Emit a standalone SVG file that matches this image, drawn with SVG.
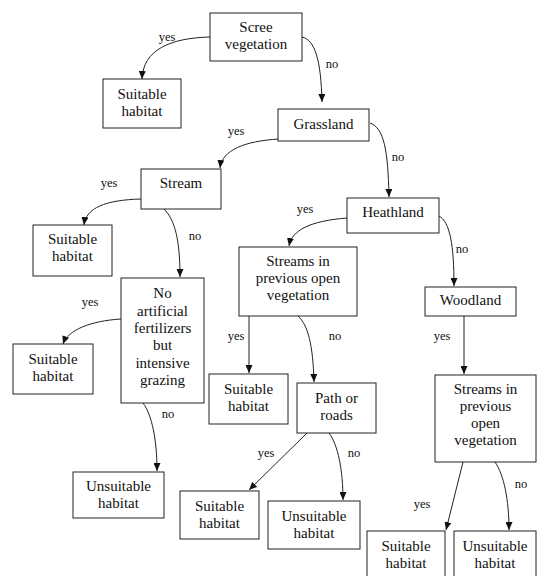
<svg xmlns="http://www.w3.org/2000/svg" width="537" height="576" viewBox="0 0 537 576">
<style>
.box{fill:#fff;stroke:#222;stroke-width:1}
.t{font-family:"Liberation Serif","Times New Roman",serif;font-size:15px;fill:#111;text-anchor:middle}
.l{font-family:"Liberation Serif","Times New Roman",serif;font-size:12.5px;fill:#111;text-anchor:middle}
.c{fill:none;stroke:#222;stroke-width:1;marker-end:url(#ah)}
</style>
<defs>
<marker id="ah" markerUnits="userSpaceOnUse" markerWidth="8" markerHeight="7" refX="8" refY="3.5" orient="auto">
<path d="M0,0 L8,3.5 L0,7 z" fill="#111"/>
</marker>
</defs>
<rect width="537" height="576" fill="#fff"/>
<g id="connectors">
<path class="c" d="M210,37 C170,38 143,50 142,79"/>
<path class="c" d="M302,37 C315,40 321,60 322,102"/>
<path class="c" d="M279,139 C245,141 222,150 220,168"/>
<path class="c" d="M370,123 C384,128 388,150 389,197"/>
<path class="c" d="M141,199 C105,200 86,208 84,225"/>
<path class="c" d="M164,209 C175,220 180,240 180,277"/>
<path class="c" d="M121,319 C90,321 68,330 63,344"/>
<path class="c" d="M143,403 C152,415 157,440 157,471"/>
<path class="c" d="M347,218 C310,221 292,230 289,246"/>
<path class="c" d="M439,216 C450,222 454,245 454,286"/>
<path class="c" d="M249,316 L249,373"/>
<path class="c" d="M298,316 C308,325 313,345 314,382"/>
<path class="c" d="M464,316 L464,374"/>
<path class="c" d="M307,433 L249,490"/>
<path class="c" d="M329,433 C338,445 343,470 343,500"/>
<path class="c" d="M463,462 L446,530"/>
<path class="c" d="M495,462 C504,475 509,500 509,530"/>
<text class="l" x="167" y="41">yes</text>
<text class="l" x="332" y="68">no</text>
<text class="l" x="236" y="135">yes</text>
<text class="l" x="398" y="161">no</text>
<text class="l" x="109" y="187">yes</text>
<text class="l" x="195" y="240">no</text>
<text class="l" x="90" y="306">yes</text>
<text class="l" x="168" y="418">no</text>
<text class="l" x="305" y="213">yes</text>
<text class="l" x="462" y="253">no</text>
<text class="l" x="236" y="340">yes</text>
<text class="l" x="335" y="340">no</text>
<text class="l" x="442" y="340">yes</text>
<text class="l" x="266" y="457">yes</text>
<text class="l" x="354" y="457">no</text>
<text class="l" x="422" y="508">yes</text>
<text class="l" x="521" y="488">no</text>
</g>
<g id="scree"><rect class="box" x="210" y="13" width="92" height="48"/><text class="t" x="256" y="32">Scree</text><text class="t" x="256" y="49">vegetation</text></g>
<g id="suitable1"><rect class="box" x="103" y="79" width="78" height="49"/><text class="t" x="142" y="99">Suitable</text><text class="t" x="142" y="116">habitat</text></g>
<g id="grassland"><rect class="box" x="278" y="109" width="91" height="32"/><text class="t" x="323.5" y="129">Grassland</text></g>
<g id="stream"><rect class="box" x="141" y="169" width="80" height="40"/><text class="t" x="181" y="188">Stream</text></g>
<g id="suitable2"><rect class="box" x="33" y="225" width="79" height="51"/><text class="t" x="72.5" y="244">Suitable</text><text class="t" x="72.5" y="261">habitat</text></g>
<g id="fertilizers"><rect class="box" x="121" y="278" width="83" height="125"/>
<text class="t" x="162.5" y="298">No</text><text class="t" x="162.5" y="315.5">artificial</text><text class="t" x="162.5" y="333">fertilizers</text><text class="t" x="162.5" y="350">but</text><text class="t" x="162.5" y="367.5">intensive</text><text class="t" x="162.5" y="385">grazing</text></g>
<g id="suitable3"><rect class="box" x="13" y="344" width="80" height="50"/><text class="t" x="53" y="364">Suitable</text><text class="t" x="53" y="381">habitat</text></g>
<g id="unsuitable1"><rect class="box" x="73" y="472" width="91" height="46"/><text class="t" x="118.5" y="491">Unsuitable</text><text class="t" x="118.5" y="508">habitat</text></g>
<g id="heathland"><rect class="box" x="347" y="198" width="92" height="35"/><text class="t" x="393" y="217">Heathland</text></g>
<g id="streams1"><rect class="box" x="239" y="247" width="118" height="69"/><text class="t" x="298" y="266">Streams in</text><text class="t" x="298" y="283">previous open</text><text class="t" x="298" y="300">vegetation</text></g>
<g id="woodland"><rect class="box" x="425" y="287" width="91" height="29"/><text class="t" x="470.5" y="305">Woodland</text></g>
<g id="suitable4"><rect class="box" x="209" y="374" width="79" height="50"/><text class="t" x="248.5" y="394">Suitable</text><text class="t" x="248.5" y="411">habitat</text></g>
<g id="path"><rect class="box" x="297" y="383" width="79" height="50"/><text class="t" x="336.5" y="403">Path or</text><text class="t" x="336.5" y="420">roads</text></g>
<g id="suitable5"><rect class="box" x="180" y="491" width="79" height="48"/><text class="t" x="219.5" y="511">Suitable</text><text class="t" x="219.5" y="528">habitat</text></g>
<g id="unsuitable2"><rect class="box" x="268" y="501" width="92" height="48"/><text class="t" x="314" y="521">Unsuitable</text><text class="t" x="314" y="538">habitat</text></g>
<g id="streams2"><rect class="box" x="435" y="375" width="101" height="87"/><text class="t" x="485.5" y="393.5">Streams in</text><text class="t" x="485.5" y="411">previous</text><text class="t" x="485.5" y="428">open</text><text class="t" x="485.5" y="445">vegetation</text></g>
<g id="suitable6"><rect class="box" x="367" y="531" width="78" height="50"/><text class="t" x="406" y="551">Suitable</text><text class="t" x="406" y="568">habitat</text></g>
<g id="unsuitable3"><rect class="box" x="454" y="531" width="82" height="50"/><text class="t" x="495" y="551">Unsuitable</text><text class="t" x="495" y="568">habitat</text></g>
</svg>
